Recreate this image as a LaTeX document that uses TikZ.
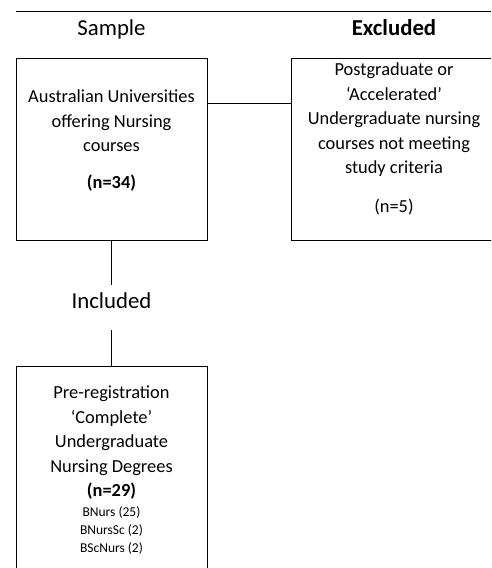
\documentclass[tikz,border=0pt]{standalone}
\usepackage{fontspec}
\setmainfont{Carlito}
\begin{document}
\begin{tikzpicture}[x=1pt,y=-1pt,
    box/.style = {draw, line width=0.8pt, inner sep=0pt},
    head/.style = {font=\fontsize{22.8}{27}\selectfont, anchor=base},
    txt/.style = {font=\fontsize{18.4}{24.5}\selectfont, align=center, anchor=north, inner sep=0pt},
    small/.style = {font=\fontsize{13.5}{18}\selectfont, align=center, anchor=north, inner sep=0pt}]
    \useasboundingbox (0,0) rectangle (491,568);
    \clip (0,0) rectangle (491,568);

    \draw[line width=0.8pt] (16,11) -- (491,11);
    \node[head] (sample) at (111.5,35) {Sample};
    \node[head] (excluded) at (394,35) {\textbf{Excluded}};

    \node[box, minimum width=191pt, minimum height=182pt] (univ) at (111.5,149) {};
    \node[box, minimum width=209pt, minimum height=182pt] (post) at (395.5,149) {};
    \node[box, minimum width=191pt, minimum height=234pt] (degree) at (111.5,483) {};

    \node[txt] (univtxt) at (111.5,90) {Australian Universities\\offering Nursing\\courses\\[12.5pt]\textbf{(n=34)}};
    \node[txt] (posttxt) at (394,63) {Postgraduate or\\‘Accelerated’\\Undergraduate nursing\\courses not meeting\\study criteria\\[14.5pt](n=5)};
    \node[txt] (degreetxt) at (111.5,386) {Pre-registration\\‘Complete’\\Undergraduate\\Nursing Degrees\\\textbf{(n=29)}};
    \node[small] (degreelist) at (111.5,506) {BNurs (25)\\BNursSc (2)\\BScNurs (2)};

    \node[head, text depth=15pt, inner ysep=7pt] (incl) at (111.5,308) {Included};

    \draw[line width=0.8pt] ([yshift=46pt]univ.east) -- ([yshift=46pt]post.west);
    \draw[line width=0.8pt] (univ) -- (incl);
    \draw[line width=0.8pt] (incl) -- (degree);
\end{tikzpicture}
\end{document}
